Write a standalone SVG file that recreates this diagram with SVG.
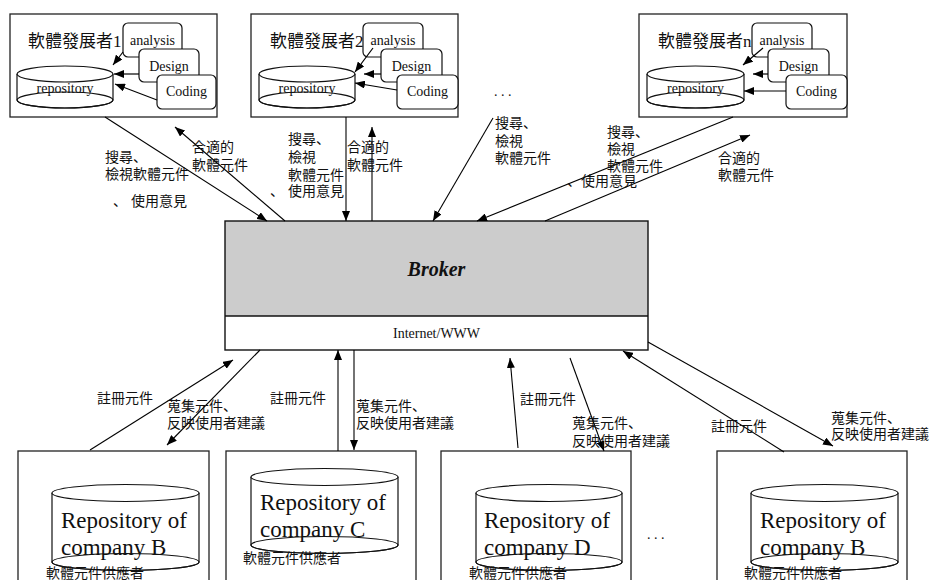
<svg xmlns="http://www.w3.org/2000/svg" width="930" height="580" viewBox="0 0 930 580">
  <style>
    .frame { fill: #ffffff; stroke: #222222; stroke-width: 1.3; }
    .step { fill: #ffffff; stroke: #111111; stroke-width: 1.2; }
    .cyl { fill: #ffffff; stroke: #111111; stroke-width: 1.2; }
    .rim { fill: none; stroke: #111111; stroke-width: 1.2; }
    .edge { fill: none; stroke: #000000; stroke-width: 1.1; marker-end: url(#arrow); }
    .inner { fill: none; stroke: #000000; stroke-width: 1.2; marker-end: url(#arrow); }
    .serif { font-family: "Liberation Serif", "Times New Roman", serif; fill: #111111; }
    .cjk { font-family: "Liberation Sans", "Noto Sans CJK JP", "Noto Sans CJK TC", sans-serif; font-size: 14px; fill: #111111; }
    .title { font-size: 17px; }
    .small { font-size: 14px; }
    .repo { font-size: 23px; }
  </style>
  <defs>
    <marker id="arrow" markerUnits="userSpaceOnUse" markerWidth="10" markerHeight="8" refX="10" refY="4" orient="auto">
      <path d="M0,0 L10,4 L0,8 z" fill="#000000"/>
    </marker>
  </defs>

  <!-- developer 1: repository fed by analysis / design / coding -->
  <g id="dev1">
    <rect class="frame" x="10" y="14" width="207" height="103"/>
    <text class="cjk title" x="28" y="47">軟體發展者<tspan class="serif">1</tspan></text>
    <path class="cyl" d="M17,74 L17,100 A48,8 0 0 0 113,100 L113,74"/>
    <ellipse class="cyl" cx="65" cy="74" rx="48" ry="8"/>
    <ellipse class="rim" cx="65" cy="100" rx="48" ry="8"/>
    <text class="serif small" x="65" y="93" text-anchor="middle">repository</text>
    <rect class="step" x="123" y="23" width="59" height="34" rx="5"/>
    <text class="serif small" x="152.5" y="45" text-anchor="middle">analysis</text>
    <rect class="step" x="139" y="49" width="60" height="33" rx="5"/>
    <text class="serif small" x="169" y="71" text-anchor="middle">Design</text>
    <rect class="step" x="157" y="75" width="59" height="34" rx="5"/>
    <text class="serif small" x="186.5" y="96" text-anchor="middle">Coding</text>
    <line class="inner" x1="123" y1="52" x2="113" y2="65"/>
    <line class="inner" x1="139" y1="74" x2="114" y2="74"/>
    <line class="inner" x1="157" y1="100" x2="115" y2="84"/>
  </g>

  <!-- developer 2 -->
  <g id="dev2" transform="translate(241,0)">
    <rect class="frame" x="10" y="14" width="207" height="103"/>
    <text class="cjk title" x="29" y="47">軟體發展者<tspan class="serif">2</tspan></text>
    <path class="cyl" d="M18,74 L18,100 A48,8 0 0 0 114,100 L114,74"/>
    <ellipse class="cyl" cx="66" cy="74" rx="48" ry="8"/>
    <ellipse class="rim" cx="66" cy="100" rx="48" ry="8"/>
    <text class="serif small" x="66" y="93" text-anchor="middle">repository</text>
    <rect class="step" x="122" y="23" width="60" height="34" rx="5"/>
    <text class="serif small" x="152" y="45" text-anchor="middle">analysis</text>
    <rect class="step" x="140" y="49" width="61" height="33" rx="5"/>
    <text class="serif small" x="170.5" y="71" text-anchor="middle">Design</text>
    <rect class="step" x="156" y="75" width="61" height="34" rx="5"/>
    <text class="serif small" x="186.5" y="96" text-anchor="middle">Coding</text>
    <line class="inner" x1="132" y1="48" x2="114" y2="72"/>
    <line class="inner" x1="140" y1="74" x2="123" y2="74"/>
    <line class="inner" x1="156" y1="90" x2="114" y2="83"/>
  </g>

  <!-- developer n -->
  <g id="devn" transform="translate(629,0)">
    <rect class="frame" x="10" y="14" width="208" height="103"/>
    <text class="cjk title" x="29" y="47">軟體發展者<tspan class="serif">n</tspan></text>
    <path class="cyl" d="M18,74 L18,100 A48.5,8 0 0 0 115,100 L115,74"/>
    <ellipse class="cyl" cx="66.5" cy="74" rx="48.5" ry="8"/>
    <ellipse class="rim" cx="66.5" cy="100" rx="48.5" ry="8"/>
    <text class="serif small" x="66.5" y="93" text-anchor="middle">repository</text>
    <rect class="step" x="123" y="23" width="60" height="34" rx="5"/>
    <text class="serif small" x="153" y="45" text-anchor="middle">analysis</text>
    <rect class="step" x="139" y="49" width="61" height="33" rx="5"/>
    <text class="serif small" x="169.5" y="71" text-anchor="middle">Design</text>
    <rect class="step" x="157" y="75" width="61" height="34" rx="5"/>
    <text class="serif small" x="187.5" y="96" text-anchor="middle">Coding</text>
    <line class="inner" x1="134" y1="48" x2="114" y2="65"/>
    <line class="inner" x1="139" y1="74" x2="124" y2="74"/>
    <line class="inner" x1="157" y1="91" x2="115" y2="91"/>
  </g>

  <text class="serif small" x="494" y="96">. . .</text>

  <!-- broker over Internet/WWW -->
  <g id="broker">
    <rect x="225" y="221" width="423" height="95" fill="#cccccc"/>
    <rect x="225" y="316" width="423" height="34" fill="#ffffff"/>
    <line x1="225" y1="316" x2="648" y2="316" stroke="#111" stroke-width="1.3"/>
    <rect x="225" y="221" width="423" height="129" fill="none" stroke="#111" stroke-width="1.4"/>
    <text class="serif" x="436.5" y="276" font-size="20" font-weight="bold" font-style="italic" text-anchor="middle">Broker</text>
    <text class="serif small" x="436.5" y="338" text-anchor="middle">Internet/WWW</text>
  </g>

  <!-- component suppliers -->
  <g id="supplierB">
    <rect class="frame" x="18" y="451" width="191" height="140"/>
    <path class="cyl" d="M52,493 L52,562 A73.5,8.5 0 0 0 199,562 L199,493"/>
    <ellipse class="cyl" cx="125.5" cy="493" rx="73.5" ry="8.5"/>
    <text class="serif repo" x="61" y="528">Repository of</text>
    <text class="serif repo" x="61" y="555">company B</text>
    <ellipse class="rim" cx="125.5" cy="562" rx="73.5" ry="8.5"/>
    <text class="cjk" x="46" y="578">軟體元件供應者</text>
  </g>

  <g id="supplierC">
    <rect class="frame" x="226" y="451" width="190" height="140"/>
    <path class="cyl" d="M251,477 L251,545 A73.5,8.5 0 0 0 398,545 L398,477"/>
    <ellipse class="cyl" cx="324.5" cy="477" rx="73.5" ry="8.5"/>
    <text class="serif repo" x="260" y="510">Repository of</text>
    <text class="serif repo" x="260" y="537">company C</text>
    <ellipse class="rim" cx="324.5" cy="545" rx="73.5" ry="8.5"/>
    <text class="cjk" x="243" y="563">軟體元件供應者</text>
  </g>

  <g id="supplierD">
    <rect class="frame" x="441" y="451" width="190" height="140"/>
    <path class="cyl" d="M476,493 L476,562 A73,8.5 0 0 0 622,562 L622,493"/>
    <ellipse class="cyl" cx="549" cy="493" rx="73" ry="8.5"/>
    <text class="serif repo" x="484" y="528">Repository of</text>
    <text class="serif repo" x="484" y="555">company D</text>
    <ellipse class="rim" cx="549" cy="562" rx="73" ry="8.5"/>
    <text class="cjk" x="469" y="578">軟體元件供應者</text>
  </g>

  <text class="serif small" x="647" y="539">. . .</text>

  <g id="supplierB2">
    <rect class="frame" x="717" y="451" width="190" height="140"/>
    <path class="cyl" d="M751,493 L751,562 A73.5,8.5 0 0 0 898,562 L898,493"/>
    <ellipse class="cyl" cx="824.5" cy="493" rx="73.5" ry="8.5"/>
    <text class="serif repo" x="760" y="528">Repository of</text>
    <text class="serif repo" x="760" y="555">company B</text>
    <ellipse class="rim" cx="824.5" cy="562" rx="73.5" ry="8.5"/>
    <text class="cjk" x="744" y="578">軟體元件供應者</text>
  </g>

  <!-- connectors between developers, broker and suppliers -->
  <g id="connectors">
    <line class="edge" x1="105" y1="117" x2="267" y2="221"/>
    <line class="edge" x1="285" y1="221" x2="175" y2="127"/>
    <line class="edge" x1="346" y1="117" x2="346" y2="221"/>
    <line class="edge" x1="372" y1="221" x2="372" y2="127"/>
    <line class="edge" x1="493" y1="118" x2="433" y2="221"/>
    <line class="edge" x1="733" y1="117" x2="477" y2="221"/>
    <line class="edge" x1="545" y1="221" x2="750" y2="135"/>

    <line class="edge" x1="90" y1="450" x2="233" y2="360"/>
    <line class="edge" x1="260" y1="350" x2="167" y2="445"/>
    <line class="edge" x1="338" y1="451" x2="338" y2="350"/>
    <line class="edge" x1="354" y1="350" x2="354" y2="450"/>
    <line class="edge" x1="518" y1="448" x2="510" y2="358"/>
    <line class="edge" x1="570" y1="358" x2="604" y2="451"/>
    <line class="edge" x1="784" y1="452" x2="623" y2="351"/>
    <line class="edge" x1="648" y1="342" x2="833" y2="446"/>
  </g>

  <!-- connector labels -->
  <g id="labels" class="cjk">
    <text x="105" y="162">搜尋、</text>
    <text x="105" y="179">檢視軟體元件</text>
    <text x="113" y="206">、 使用意見</text>
    <text x="192" y="152">合適的</text>
    <text x="192" y="170">軟體元件</text>

    <text x="288" y="144">搜尋、</text>
    <text x="288" y="162">檢視</text>
    <text x="288" y="180">軟體元件</text>
    <text x="270" y="196">、 使用意見</text>
    <text x="347" y="152">合適的</text>
    <text x="347" y="170">軟體元件</text>

    <text x="495" y="128">搜尋、</text>
    <text x="495" y="146">檢視</text>
    <text x="495" y="163">軟體元件</text>

    <text x="607" y="137">搜尋、</text>
    <text x="607" y="154">檢視</text>
    <text x="607" y="171">軟體元件</text>
    <text x="567" y="186">、使用意見</text>
    <text x="718" y="163">合適的</text>
    <text x="718" y="180">軟體元件</text>

    <text x="97" y="403">註冊元件</text>
    <text x="167" y="411">蒐集元件、</text>
    <text x="167" y="428">反映使用者建議</text>
    <text x="270" y="403">註冊元件</text>
    <text x="356" y="411">蒐集元件、</text>
    <text x="356" y="428">反映使用者建議</text>
    <text x="520" y="404">註冊元件</text>
    <text x="572" y="428">蒐集元件、</text>
    <text x="572" y="446">反映使用者建議</text>
    <text x="711" y="431">註冊元件</text>
    <text x="831" y="423">蒐集元件、</text>
    <text x="831" y="439">反映使用者建議</text>
  </g>
</svg>
